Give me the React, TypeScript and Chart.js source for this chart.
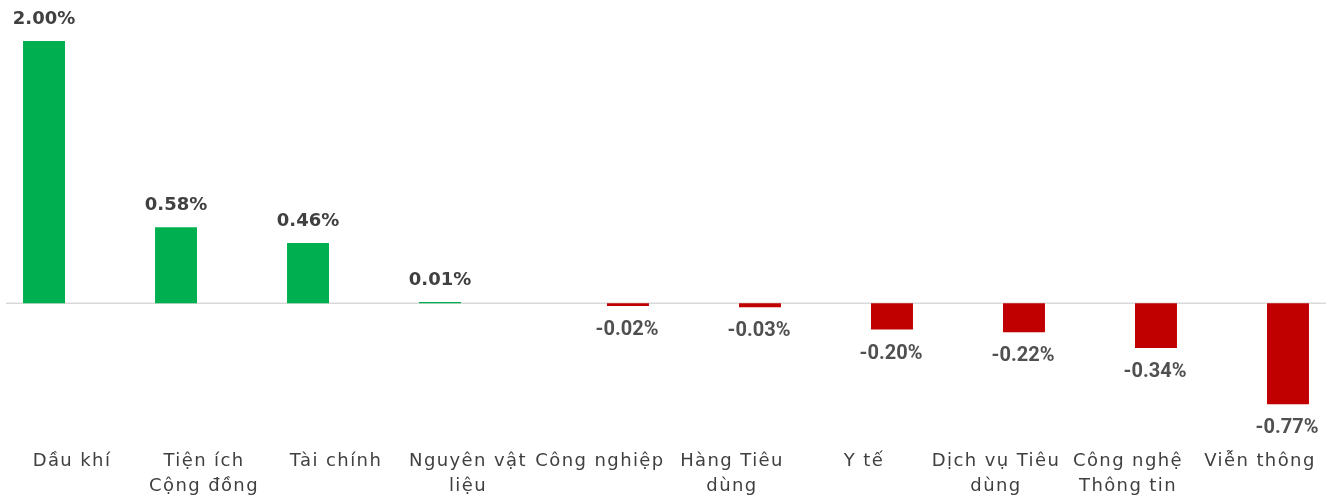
import React, { useEffect, useRef } from "react";
import { Chart, registerables } from "chart.js";

Chart.register(...registerables);

const categories: string[][] = [
  ["Dầu khí"],
  ["Tiện ích", "Cộng đồng"],
  ["Tài chính"],
  ["Nguyên vật", "liệu"],
  ["Công nghiệp"],
  ["Hàng Tiêu", "dùng"],
  ["Y tế"],
  ["Dịch vụ Tiêu", "dùng"],
  ["Công nghệ", "Thông tin"],
  ["Viễn thông"],
];
const values: number[] = [2.0, 0.58, 0.46, 0.01, -0.02, -0.03, -0.2, -0.22, -0.34, -0.77];

const GREEN = "#00b050";
const RED = "#c00000";

const labelPlugin = {
  id: "valueLabels",
  beforeDraw(chart: any) {
    chart.ctx.letterSpacing = "1.4px";
  },
  beforeDatasetsDraw(chart: any) {
    const { ctx, chartArea, scales } = chart;
    const y0 = scales.y.getPixelForValue(0);
    ctx.save();
    ctx.strokeStyle = "#d9d9d9";
    ctx.lineWidth = 1.5;
    ctx.beginPath();
    ctx.moveTo(chartArea.left, y0);
    ctx.lineTo(chartArea.right, y0);
    ctx.stroke();
    ctx.restore();
  },
  afterDatasetsDraw(chart: any) {
    const { ctx } = chart;
    ctx.save();
    ctx.letterSpacing = "0px";
    ctx.textAlign = "center";
    ctx.textBaseline = "middle";
    chart.data.datasets.forEach((ds: any, i: number) => {
      const meta = chart.getDatasetMeta(i);
      meta.data.forEach((bar: any, j: number) => {
        const v = ds.data[j];
        if (v === null || v === undefined) return;
        const text = v.toFixed(2) + "%";
        if (v >= 0) {
          ctx.font = "bold 18px 'DejaVu Sans', sans-serif";
          ctx.fillStyle = "#404040";
          ctx.fillText(text, bar.x, bar.y - 22);
        } else {
          ctx.font = "bold 20px Roboto, sans-serif";
          ctx.fillStyle = "#505050";
          ctx.fillText(text, bar.x - 1, bar.y + 24);
        }
      });
    });
    ctx.restore();
  },
  afterDraw(chart: any) {
    chart.ctx.letterSpacing = "0px";
  },
};

export default function App() {
  const ref = useRef<HTMLCanvasElement | null>(null);
  useEffect(() => {
    if (!ref.current) return;
    const chart = new Chart(ref.current, {
      type: "bar",
      data: {
        labels: categories,
        datasets: [
          {
            data: values.map((v) => (v >= 0 ? v : null)),
            backgroundColor: GREEN,
            categoryPercentage: 0.848,
            barPercentage: 0.75,
          },
          {
            data: values.map((v) => (v < 0 ? v : null)),
            backgroundColor: RED,
            categoryPercentage: 0.848,
            barPercentage: 0.75,
          },
        ],
      },
      options: {
        responsive: false,
        animation: false,
        devicePixelRatio: 1,
        layout: { padding: { left: 6, right: 2, top: 14.8, bottom: 0 } },
        plugins: { legend: { display: false }, tooltip: { enabled: false } },
        scales: {
          x: {
            grid: { display: false, drawTicks: false },
            border: { display: false },
            afterFit: (scale: any) => {
              scale.height = 61.5;
            },
            ticks: {
              padding: 14,
              maxRotation: 0,
              autoSkip: false,
              color: "#404040",
              font: { family: "'DejaVu Sans', sans-serif", size: 18, lineHeight: "25px" },
            },
          },
          y: {
            display: false,
            min: -1.0,
            max: 2.2,
          },
        },
      },
      plugins: [labelPlugin],
    });
    return () => chart.destroy();
  }, []);
  return (
    <div style={{ position: "absolute", left: 0, top: 0, width: 1328, height: 496 }}>
      <canvas ref={ref} width={1328} height={496} style={{ width: 1328, height: 496 }} />
    </div>
  );
}
